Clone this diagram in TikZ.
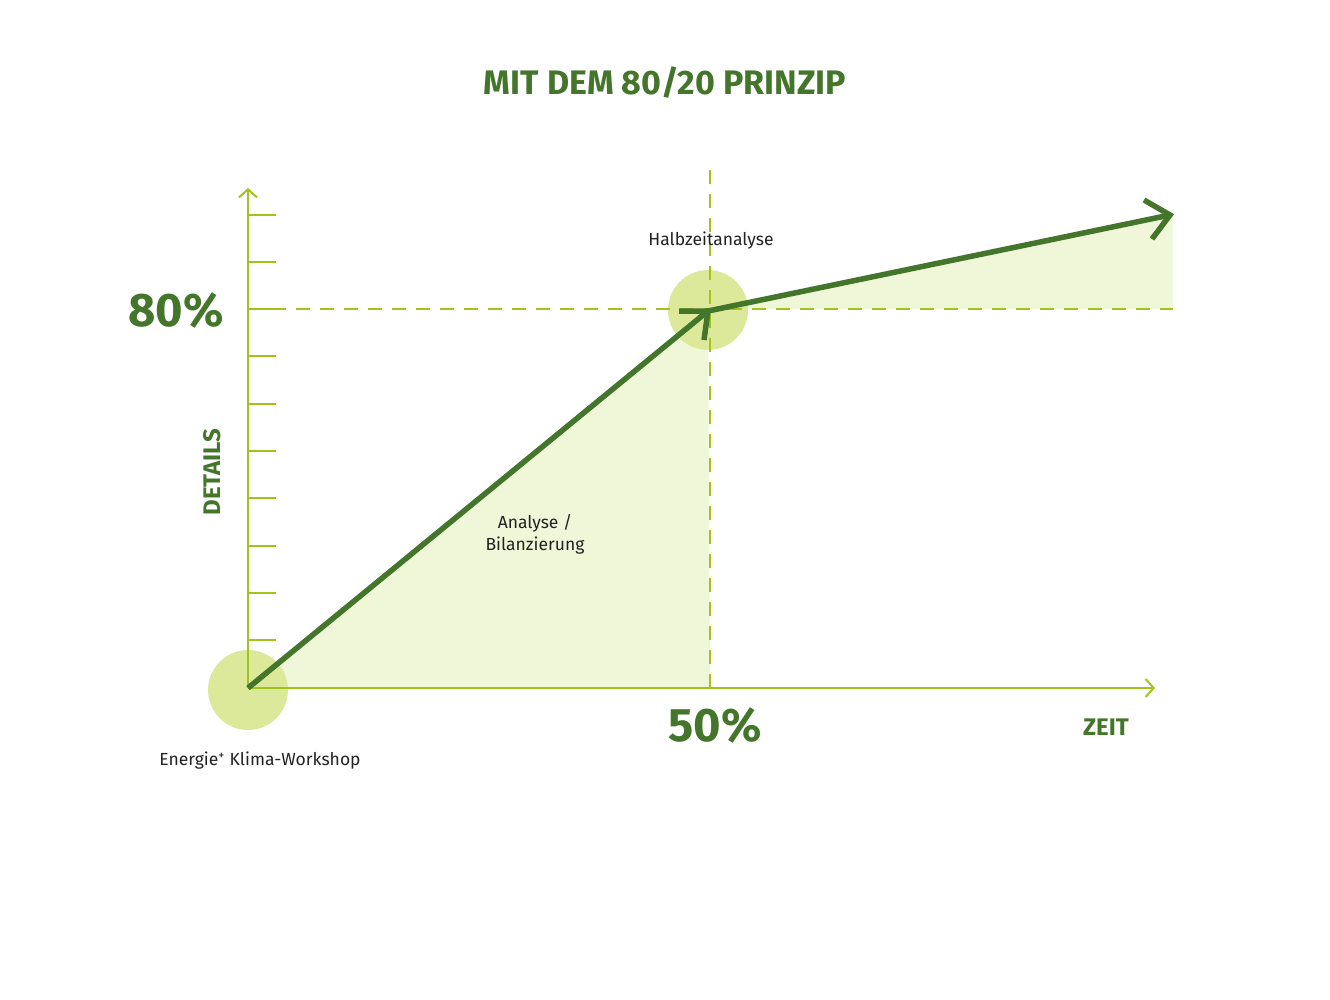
\documentclass[tikz,border=0pt]{standalone}
\usepackage{fontspec}
\setmainfont{Fira Sans}
\usetikzlibrary{arrows.meta}
\definecolor{axisg}{HTML}{A2C31B}
\definecolor{darkg}{HTML}{43752A}
\definecolor{fillg}{HTML}{F0F6D8}
\definecolor{circg}{HTML}{DCE99A}
\definecolor{txt}{HTML}{222222}
\tikzset{
 axisln/.style={axisg,line width=2pt},
 tickln/.style={axisg,line width=2pt},
 dashln/.style={axisg,line width=1.6pt,dash pattern=on 14pt off 10pt},
 curveln/.style={darkg,line width=5.5pt},
 bigtxt/.style={darkg,font=\bfseries\fontsize{47}{47}\selectfont},
 labtxt/.style={txt,font=\fontsize{17.5}{22}\selectfont,align=center},
 captxt/.style={darkg,font=\bfseries\fontsize{24}{24}\selectfont}
}
\begin{document}
\begin{tikzpicture}[x=1pt,y=-1pt]
\useasboundingbox (0,0) rectangle (1330,999);
\fill[fillg] (248,688) -- (708,309) -- (710,688) -- cycle;
\fill[fillg] (708,309) -- (1173,215) -- (1173,309) -- cycle;
\fill[circg] (248,690) circle (40);
\fill[circg] (708,310) circle (40);
\coordinate (o) at (248,688);
\coordinate (ytop) at (248,188);
\coordinate (xend) at (1155,688);
\draw[axisln,-{Straight Barb[length=8pt,width=18pt]}] (o) -- (ytop);
\draw[axisln,-{Straight Barb[length=8pt,width=18pt]}] (o) -- (xend);
\foreach \y in {215,262,309,356,404,451,498,546,593,640}
  \draw[tickln] (248,\y) -- (276,\y);
\coordinate (vt) at (710,170); \coordinate (vb) at (710,688);
\coordinate (hl) at (248,309); \coordinate (hr) at (1173,309);
\draw[dashln] (vt) -- (vb);
\draw[dashln] (hl) -- (hr);
\coordinate (p0) at (248,688);
\coordinate (p1) at (708,311);
\coordinate (p2) at (1170,215);
\draw[curveln] (p0) -- (p1) -- (p2);
\draw[curveln] (679,311) -- (708,311) -- (704,340);
\draw[curveln] (1144,200) -- (1170,215) -- (1152,239);
\node[darkg,font=\bfseries\fontsize{34}{34}\selectfont] (title) at (665,83) {MIT DEM 80/20 PRINZIP};
\node[bigtxt] (p80) at (176,311) {80\%};
\node[bigtxt] (p50) at (715,726) {50\%};
\node[captxt,rotate=90] (det) at (212,472) {DETAILS};
\node[captxt] (zeit) at (1106,727) {ZEIT};
\node[labtxt] (halb) at (711,241) {Halbzeitanalyse};
\node[labtxt] (ana) at (535,534) {Analyse /\\Bilanzierung};
\node[labtxt] (ew) at (260,761) {Energie\textsuperscript{+} Klima-Workshop};
\end{tikzpicture}
\end{document}
